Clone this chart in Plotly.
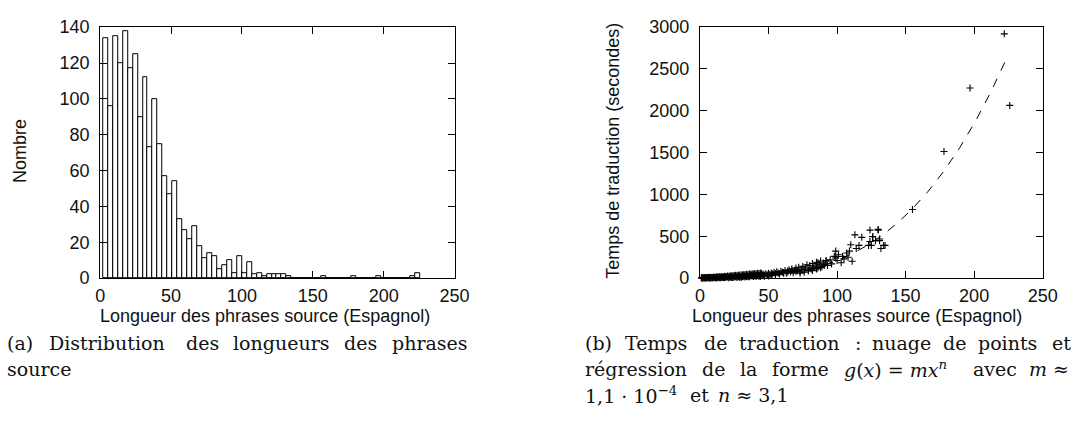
import numpy as np
import plotly.graph_objects as go

W, H = 1092, 436

# ---- (a) histogram of source sentence lengths ----
BIN_START = 2.0
BIN_WIDTH = 3.5
counts = [134, 96, 135, 120, 138, 117, 125, 90, 112, 73,
          100, 75, 57, 47, 54, 33, 27, 22, 29, 18,
          11, 14, 12, 5, 7, 10, 3, 12, 3, 9,
          2, 3, 1, 2, 2, 2, 2, 1, 0, 0,
          0, 0, 0, 0, 1, 0, 0, 0, 0, 0,
          1, 0, 0, 0, 0, 1, 0, 0, 0, 0,
          0, 0, 1, 3]

# ---- (b) translation time vs. sentence length ----
lengths = [
    1, 2, 3, 4, 5, 6, 7, 8, 9, 10, 11, 12, 13, 14, 15, 16, 17, 18, 19, 20,
    21, 22, 23, 24, 25, 26, 27, 28, 29, 30, 31, 32, 33, 34, 35, 36, 37, 38, 39, 40,
    2, 4, 6, 7, 9, 10, 12, 13, 15, 16, 18, 19, 21, 22, 24, 25, 27, 28, 30, 31,
    33, 34, 36, 37, 39, 40,
    1, 2, 3, 4, 5, 6, 7, 8, 9, 10, 11, 12, 13, 14, 15, 16, 17, 18, 19, 20,
    21, 22, 23, 24, 25, 26, 27, 28, 29, 30, 31, 32, 33, 34, 35, 36, 37, 38, 39, 40,
    41, 42, 43, 44, 45,
    3, 5, 8, 11, 14, 17, 20, 23, 26, 29, 32, 35, 38, 41, 42, 43, 44, 45, 46, 47, 48, 49, 50,
    41, 43, 44, 46, 47, 49, 50,
    51, 52, 53, 54, 55, 56, 57, 58, 59, 60, 61, 62, 63, 64, 65, 66, 67, 68, 69, 70,
    52, 55, 58, 61, 64, 67, 70,
    71, 72, 73, 74, 75, 76, 77, 78, 79, 80, 81, 82, 83, 84, 85, 86, 87, 88, 89, 90, 91, 92,
    73, 76, 79, 82, 85, 88,
    86, 90, 92, 95, 99, 99, 103, 104, 109, 110, 111, 114, 116, 113, 118, 123, 124, 125,
    126, 128, 130, 131, 132, 135, 124, 126, 130, 131, 134, 93, 96, 98, 100, 101, 105, 107, 108,
    155, 178, 197, 222, 226,
]
times = [
    1, 2, 1, 3, 2, 4, 3, 2, 5, 4, 6, 3, 7, 5, 8, 6, 9, 7, 10, 12,
    9, 11, 14, 10, 13, 16, 12, 15, 18, 14, 20, 17, 22, 19, 25, 21, 28, 24, 30, 27,
    3, 1, 5, 2, 4, 8, 2, 9, 4, 12, 6, 15, 5, 18, 8, 22, 9, 24, 11, 27,
    13, 30, 15, 33, 18, 38,
    4, 3, 6, 5, 7, 9, 6, 11, 8, 13, 10, 15, 12, 17, 14, 20, 16, 23, 19, 26,
    22, 29, 25, 32, 28, 35, 31, 38, 34, 41, 37, 44, 40, 47, 43, 50, 46, 53, 49, 56,
    52, 59, 55, 62, 58,
    4, 6, 8, 3, 12, 5, 18, 7, 22, 10, 28, 15, 34, 30, 38, 26, 42, 33, 47, 36, 52, 40, 58,
    20, 24, 18, 28, 22, 30, 26,
    44, 60, 50, 68, 55, 75, 62, 48, 80, 70, 66, 92, 58, 85, 100, 74, 110, 64, 95, 120,
    35, 40, 52, 58, 72, 90, 80,
    88, 130, 75, 105, 140, 95, 120, 160, 85, 150, 110, 175, 130, 145, 190, 120, 165, 205, 140, 180, 155, 210,
    60, 70, 100, 90, 110, 125,
    183, 163, 202, 220, 240, 323, 183, 259, 323, 399, 202, 354, 391, 517, 487, 391, 574, 391,
    498, 448, 574, 468, 354, 391, 437, 494, 582, 448, 391, 150, 170, 260, 210, 280, 230, 300, 250,
    821, 1514, 2273, 2920, 2065,
]

# power-law regression g(x) = m * x^n
M_COEF = 1.1e-4
N_EXP = 3.14
FIT_MAX = 225

bin_centers = [BIN_START + BIN_WIDTH * (i + 0.5) for i in range(len(counts))]
fit_x = np.linspace(0, FIT_MAX, 300)
fit_y = M_COEF * fit_x ** N_EXP

SANS = "Liberation Sans, Arial, sans-serif"
SERIF = "DejaVu Serif, Liberation Serif, serif"
TICK_FONT = dict(family=SANS, size=18, color="#111")


def px(x):
    return x / W


def py(y):
    return 1 - y / H


fig = go.Figure()

fig.add_trace(go.Bar(
    x=bin_centers, y=counts, width=BIN_WIDTH,
    marker=dict(color="white", line=dict(color="black", width=1)),
    xaxis="x", yaxis="y", showlegend=False,
))

fig.add_trace(go.Scatter(
    x=fit_x, y=fit_y, mode="lines",
    line=dict(color="black", width=1, dash="dash"),
    xaxis="x2", yaxis="y2", showlegend=False,
))

fig.add_trace(go.Scatter(
    x=lengths, y=times, mode="markers", cliponaxis=False,
    marker=dict(symbol="cross-thin", size=5, line=dict(color="black", width=1.1)),
    xaxis="x2", yaxis="y2", showlegend=False,
))

axis_common = dict(
    showline=True, linecolor="black", linewidth=1.2, mirror="allticks",
    ticks="inside", ticklen=7, tickwidth=1, tickcolor="black",
    showgrid=False, zeroline=False, tickfont=TICK_FONT,
)
x_axis = dict(range=[0, 250], tickvals=[0, 50, 100, 150, 200, 250], ticklabelstandoff=1, **axis_common)

y_dom = [py(281), py(18)]

fig.update_layout(
    width=W, height=H,
    margin=dict(l=0, r=0, t=0, b=0),
    paper_bgcolor="white", plot_bgcolor="white",
    bargap=0,
    xaxis=dict(domain=[px(97), px(458)], anchor="y", **x_axis),
    yaxis=dict(domain=y_dom, range=[0, 140], tickvals=list(range(0, 141, 20)),
               anchor="x", ticklabelstandoff=6, **axis_common),
    xaxis2=dict(domain=[px(708), px(1057)], anchor="y2", **x_axis),
    yaxis2=dict(domain=y_dom, range=[0, 3000], tickvals=list(range(0, 3001, 500)),
                anchor="x2", ticklabelstandoff=6, **axis_common),
)

title_font = dict(family=SANS, size=18, color="#111")
annotations = [
    dict(x=px(16), y=py(148), text="Nombre", textangle=-90, font=title_font),
    dict(x=px(265), y=py(321), text="Longueur des phrases source (Espagnol)", font=title_font),
    dict(x=px(620), y=py(148), text="Temps de traduction (secondes)", textangle=-90, font=title_font),
    dict(x=px(868), y=py(321), text="Longueur des phrases source (Espagnol)", font=title_font),
]

# justified caption lines: (left edge in px, word)
cap_font = dict(family=SERIF, size=19, color="#111")
caption_a = [
    [(0, "(a)"), (43, "Distribution"), (182, "des"), (230, "longueurs"), (343, "des"), (392, "phrases")],
    [(0, "source")],
]
caption_b = [
    [(589, "(b)"), (630, "Temps"), (710, "de"), (746, "traduction"), (864, ":"), (881, "nuage"),
     (953, "de"), (989, "points"), (1064, "et")],
    [(589, "régression"), (708, "de"), (747, "la"), (779, "forme"),
     (853, "<i>g</i>(<i>x</i>) = <i>mx<sup>n</sup></i>"), (984, "avec"), (1041, "<i>m</i> ≈")],
    [(589, "1,1 · 10<sup>−4</sup>"), (696, "et"), (724, "<i>n</i> ≈ 3,1")],
]
for lines in (caption_a, caption_b):
    for row, words in enumerate(lines):
        for x0, word in words:
            annotations.append(dict(x=px(x0), y=py(349 + 27 * row), text=word,
                                    xanchor="left", font=cap_font))

for a in annotations:
    a.setdefault("xanchor", "center")
    a.update(xref="paper", yref="paper", yanchor="middle", showarrow=False)
fig.update_layout(annotations=annotations)

fig.write_html("out.html")
